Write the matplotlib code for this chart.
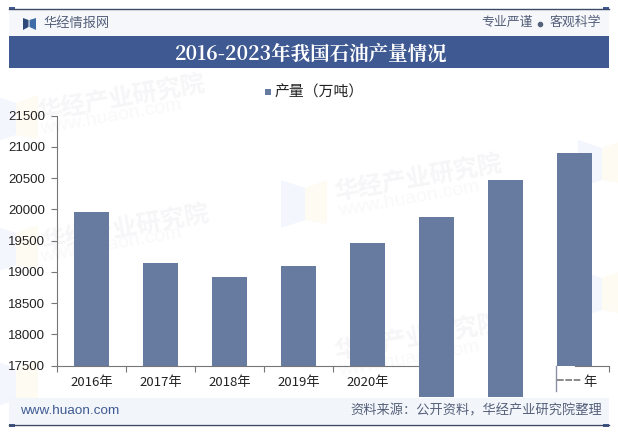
import matplotlib
matplotlib.use('Agg')
import matplotlib.pyplot as plt
from matplotlib.patches import Rectangle, Polygon

plt.rcParams['font.family'] = ['Noto Sans CJK SC', 'DejaVu Sans']

years = ['2016年', '2017年', '2018年', '2019年', '2020年', '2021年', '2022年', '2023年']
output = [19958, 19141, 18917, 19093, 19461, 19878, 20470, 20903]
# the bars for 2021 and 2022 run on below the axis in the picture
bar_bottom = [17500, 17500, 17500, 17500, 17500, 17000, 17000, 17500]
yticks = [17500, 18000, 18500, 19000, 19500, 20000, 20500, 21000, 21500]

W, H = 618, 437
BAR = '#677BA1'
NAVY = '#3F5A92'
DARK = '#3C4A68'
AXIS = '#777777'
GREY_TEXT = '#55607A'

fig = plt.figure(figsize=(W / 100, H / 100), dpi=100)

# page furniture is placed in pixels on a full figure axes
bg = fig.add_axes([0, 0, 1, 1], zorder=0)
bg.set_xlim(0, W)
bg.set_ylim(H, 0)
bg.axis('off')

# faint watermarks
for x, y in [(38, 113), (42, 243), (335, 193), (335, 352)]:
    bg.text(x, y, '华经产业研究院', fontsize=17.5, color='#F6F6F8', rotation=10, va='center', ha='left',
            fontweight='bold', rotation_mode='anchor')
for x, y in [(40, 130), (40, 258), (338, 212), (338, 372)]:
    bg.text(x, y, 'www.huaon.com', fontsize=14, color='#F9F9FB', rotation=10, va='center', ha='left',
            family=['Liberation Sans'], rotation_mode='anchor')
for x, y in [(281, 180), (-8, 95), (-8, 225), (-8, 360), (578, 140), (578, 270)]:
    bg.add_patch(Polygon([(x, y), (x + 24, y + 8), (x + 24, y + 40), (x, y + 48)],
                         color='#F3F6FC', lw=0))
    bg.add_patch(Polygon([(x + 24, y + 8), (x + 46, y), (x + 46, y + 44), (x + 24, y + 40)],
                         color='#FEFBF3', lw=0))

bg.add_patch(Rectangle((9, 9), 600, 27, color='#F5F7FA', lw=0))
bg.add_patch(Rectangle((9, 36), 600, 32, color=NAVY, lw=0))
bg.add_patch(Rectangle((9, 398), 600, 26, color='#F2F5FA', lw=0))
bg.plot([9, 609], [8.5, 8.5], color=DARK, lw=1)
bg.plot([9, 609], [425, 425], color=DARK, lw=1)
for x in (9, 603):
    bg.add_patch(Rectangle((x, 7), 6, 3, color=NAVY, lw=0))
    bg.add_patch(Rectangle((x, 424), 6, 3, color=NAVY, lw=0))

# logo
bg.add_patch(Polygon([(23, 18), (28.5, 20), (28.5, 27), (23, 30)], color='#2F4A78', lw=0))
bg.add_patch(Polygon([(36, 18), (29.5, 20), (29.5, 27), (36, 30)], color='#3E6DA8', lw=0))

bg.text(43, 23.5, '华经情报网', fontsize=9.5, color=GREY_TEXT, va='center', ha='left')
bg.text(533, 22.5, '专业严谨', fontsize=9.3, color=GREY_TEXT, va='center', ha='right')
bg.text(601, 22.5, '客观科学', fontsize=9.3, color=GREY_TEXT, va='center', ha='right')
bg.plot([540], [23.5], marker='o', ms=3, color=GREY_TEXT)
bg.text(311, 54, '2016-2023年我国石油产量情况', fontsize=14, color='white', va='center', ha='center',
        family=['Noto Serif CJK SC', 'Noto Sans CJK SC', 'DejaVu Sans'], fontweight='bold')
bg.text(20, 411, 'www.huaon.com', fontsize=9.7, color=NAVY, va='center', ha='left',
        family=['Liberation Sans'])
bg.text(602, 411, '资料来源：公开资料，华经产业研究院整理', fontsize=9.5, color=GREY_TEXT, va='center', ha='right')

# legend
bg.add_patch(Rectangle((265, 89), 6, 6, color=BAR, lw=0))
bg.text(274, 92, '产量（万吨）', fontsize=10.7, color='#222222', va='center', ha='left')

ax = fig.add_axes([57 / W, 1 - 365.5 / H, 552 / W, 249.8 / H], zorder=1)
ax.patch.set_alpha(0)
xs = range(len(years))
heights = [v - b for v, b in zip(output, bar_bottom)]
ax.bar(xs, heights, bottom=bar_bottom, width=0.5, color=BAR, clip_on=False, zorder=5)

ax.set_xlim(-0.5, 7.5)
ax.set_ylim(17500, 21500)
ax.set_yticks(yticks)
# ticks and axis line are rubbed out under the smudged part of the picture
ax.set_xticks([-0.5, 0.5, 1.5, 2.5, 3.5, 7.5])
ax.set_xticklabels([])
ax.tick_params(axis='x', length=4, color=AXIS, width=0.8)
ax.tick_params(axis='y', length=4, color=AXIS, width=0.8, labelsize=9.5, labelcolor='#222222', pad=4.5)
for lab in ax.get_yticklabels():
    lab.set_family(['Liberation Sans'])
for s in ('top', 'right'):
    ax.spines[s].set_visible(False)
ax.spines['left'].set_color(AXIS)
ax.spines['bottom'].set_color(AXIS)
ax.spines['bottom'].set_bounds(-0.5, 4.75)
ax.plot([7, 7.5], [17500, 17500], color=AXIS, lw=0.8, clip_on=False, zorder=4)

for i, y in enumerate(years):
    if i < 5:
        ax.annotate(y, (i, 0), xycoords=('data', 'axes fraction'), xytext=(0, -12), textcoords='offset points',
                    ha='center', va='center', fontsize=9.5, color='#222222')
# only the last character of the 2023 label survives in the picture
ax.annotate('年', (7.22, 0), xycoords=('data', 'axes fraction'), xytext=(0, -12), textcoords='offset points',
            ha='center', va='center', fontsize=9.5, color='#222222')
ax.plot([6.73, 6.73], [17500, 17090], color='#8A93A5', lw=1, clip_on=False, zorder=4)
ax.plot([6.75, 7.1], [17270, 17270], color='#777777', lw=1.2, ls=(0, (4, 1)), clip_on=False, zorder=4)

fig.savefig('out.png', dpi=100)
